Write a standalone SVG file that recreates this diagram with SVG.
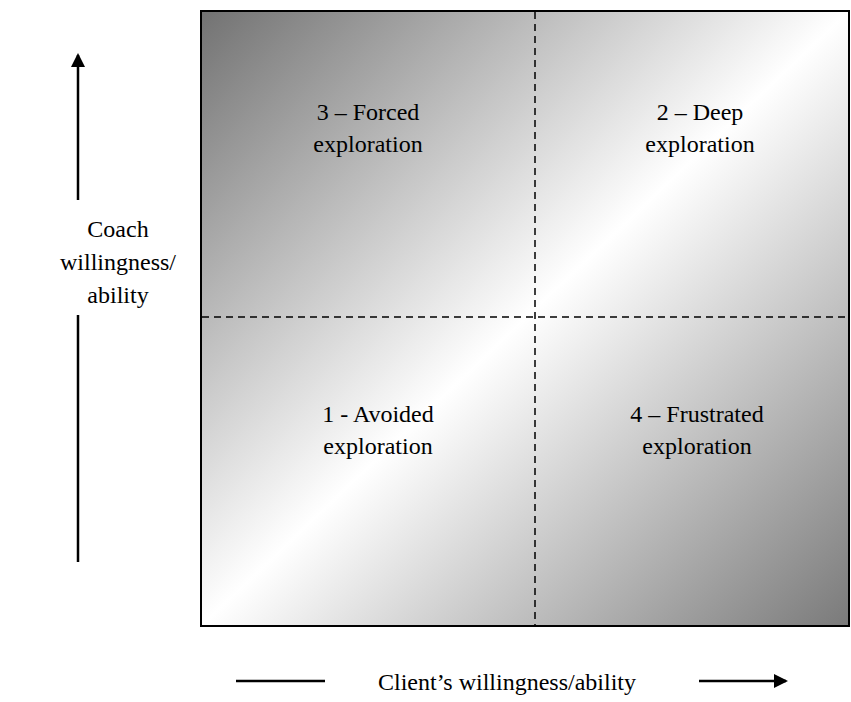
<svg xmlns="http://www.w3.org/2000/svg" width="851" height="702" viewBox="0 0 851 702">
<defs>
<linearGradient id="g" x1="0" y1="0" x2="1" y2="1">
<stop offset="0" stop-color="#727272"/>
<stop offset="0.5" stop-color="#ffffff"/>
<stop offset="1" stop-color="#7a7a7a"/>
</linearGradient>
<marker id="ah" markerWidth="14" markerHeight="14" refX="12" refY="7" orient="auto" markerUnits="userSpaceOnUse" viewBox="0 0 14 14">
<path d="M0,0 L14,7 L0,14 Z" fill="#000"/>
</marker>
<style>
.t{font-family:'Liberation Serif','Times New Roman',serif;font-size:24px;fill:#000;text-anchor:middle}
.dash{stroke:#000;stroke-width:1.5;stroke-dasharray:7,5;fill:none}
.ax{stroke:#000;stroke-width:2.5;fill:none}
</style>
</defs>
<g id="matrix">
<rect x="201" y="11" width="648" height="615" fill="url(#g)" stroke="#000" stroke-width="2"/>
</g>
<g id="connectors">
<line class="dash" x1="535" y1="12" x2="535" y2="625"/>
<line class="dash" x1="202" y1="317" x2="848" y2="317"/>
<line class="ax" x1="78" y1="200" x2="78" y2="55" marker-end="url(#ah)"/>
<line class="ax" x1="78" y1="315" x2="78" y2="562"/>
<line class="ax" x1="236" y1="681" x2="325" y2="681"/>
<line class="ax" x1="699" y1="681" x2="786" y2="681" marker-end="url(#ah)"/>
</g>
<g font-family="Liberation Serif, Times New Roman, serif" font-size="24" text-anchor="middle" fill="#000">
<g id="q3"><text class="t" x="368" y="120">3 – Forced</text><text class="t" x="368" y="152">exploration</text></g>
<g id="q2"><text class="t" x="700" y="120">2 – Deep</text><text class="t" x="700" y="152">exploration</text></g>
<g id="q1"><text class="t" x="378" y="422">1 - Avoided</text><text class="t" x="378" y="454">exploration</text></g>
<g id="q4"><text class="t" x="697" y="422">4 – Frustrated</text><text class="t" x="697" y="454">exploration</text></g>
<g id="yaxis"><text class="t" x="118" y="237">Coach</text><text class="t" x="118" y="270">willingness/</text><text class="t" x="118" y="303">ability</text></g>
<g id="xaxis"><text class="t" x="507" y="690">Client’s willingness/ability</text></g>
</g>
</svg>
